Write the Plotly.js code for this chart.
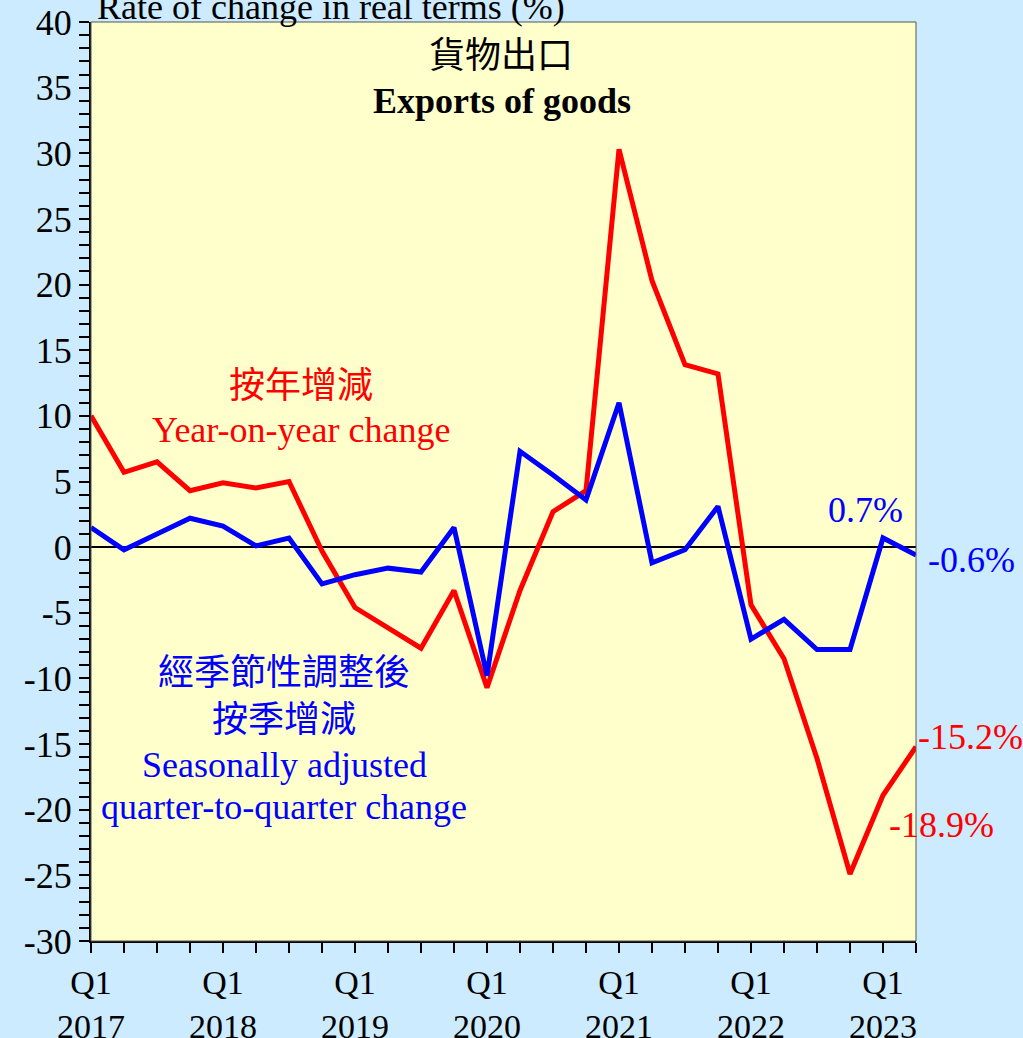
<!DOCTYPE html>
<html>
<head>
<meta charset="utf-8">
<script src="https://cdn.plot.ly/plotly-3.0.1.min.js"></script>
<style>
html,body{margin:0;padding:0;background:#CCEBFF;}
#chart{width:1023px;height:1038px;}
</style>
</head>
<body>
<div id="chart"></div>
<script>
const quarters = ["Q1 2017","Q2 2017","Q3 2017","Q4 2017","Q1 2018","Q2 2018","Q3 2018","Q4 2018",
  "Q1 2019","Q2 2019","Q3 2019","Q4 2019","Q1 2020","Q2 2020","Q3 2020","Q4 2020",
  "Q1 2021","Q2 2021","Q3 2021","Q4 2021","Q1 2022","Q2 2022","Q3 2022","Q4 2022","Q1 2023","Q2 2023"];
const yoyChange = [10.0,5.7,6.5,4.3,4.9,4.5,5.0,-0.3,-4.6,-6.2,-7.7,-3.3,-10.7,-3.3,2.7,4.3,
  30.3,20.3,13.9,13.2,-4.4,-8.5,-16.1,-24.9,-18.9,-15.2];
const qoqChange = [1.5,-0.2,1.0,2.2,1.6,0.1,0.7,-2.8,-2.1,-1.6,-1.9,1.5,-9.8,7.3,5.5,3.6,
  11.0,-1.2,-0.2,3.1,-7.0,-5.5,-7.8,-7.8,0.7,-0.6];
const xTickLabels = ["Q1<br>2017","","","","Q1<br>2018","","","","Q1<br>2019","","","","Q1<br>2020","","","",
  "Q1<br>2021","","","","Q1<br>2022","","","","Q1<br>2023",""];
const yTickVals = [-30,-25,-20,-15,-10,-5,0,5,10,15,20,25,30,35,40];
const yTickLabels = ["-30","-25","-20","-15","-10","-5","0","5","10","15","20","25","30","35","40"];

const xIdx = quarters.map((q,i)=>i);
const serif = "Liberation Serif, Times New Roman, Noto Sans CJK TC, serif";
const last = quarters.length-1;

const traces = [
  {x:xIdx, y:yoyChange, type:'scatter', mode:'lines', line:{color:'#FF0000', width:5}, cliponaxis:false, hoverinfo:'skip'},
  {x:xIdx, y:qoqChange, type:'scatter', mode:'lines', line:{color:'#0000FF', width:5}, cliponaxis:false, hoverinfo:'skip'}
];

const fmt = v => v.toFixed(1) + '%';
const FS = 36;

layout = {
  width:1023, height:1038,
  paper_bgcolor:'#CCEBFF', plot_bgcolor:'#FFFFCC',
  margin:{l:91, r:107, t:22, b:97},
  showlegend:false,
  font:{family:serif, size:FS, color:'#000'},
  xaxis:{
    range:[0,last], tickvals:xIdx, ticktext:xTickLabels,
    ticks:'outside', ticklen:10, tickwidth:1.5, tickcolor:'#000',
    showline:true, linecolor:'#000', linewidth:2,
    showgrid:false, zeroline:false, tickangle:0,
    tickfont:{family:serif, size:34, color:'#000'}
  },
  yaxis:{
    range:[-30,40], tickvals:yTickVals, ticktext:yTickLabels,
    ticks:'outside', ticklen:10, tickwidth:2, tickcolor:'#000',
    minor:{dtick:1, ticks:'outside', ticklen:10, tickwidth:2, tickcolor:'#000', showgrid:false},
    showline:true, linecolor:'#000', linewidth:2,
    showgrid:false, zeroline:true, zerolinecolor:'#000', zerolinewidth:2,
    tickfont:{family:serif, size:FS, color:'#000'}
  },
  shapes:[
    {type:'rect', xref:'paper', yref:'paper', x0:0, x1:1, y0:0, y1:1, line:{color:'#555', width:1}, fillcolor:'rgba(0,0,0,0)'}
  ],
  annotations:[
    {xref:'paper', yref:'paper', x:(331-91)/825, y:1, yanchor:'bottom', xanchor:'center', yshift:-7, showarrow:false,
     text:'Rate of change in real terms (%)', font:{family:serif, size:FS, color:'#000'}},
    {xref:'paper', yref:'y', x:(501-91)/825, y:37.4, showarrow:false, xanchor:'center', yanchor:'middle',
     text:'貨物出口', font:{family:serif, size:FS, color:'#000'}},
    {xref:'paper', yref:'y', x:(502-91)/825, y:34.0, showarrow:false, xanchor:'center', yanchor:'middle',
     text:'<b>Exports of goods</b>', font:{family:serif, size:FS, color:'#000'}},
    {xref:'paper', yref:'y', x:(301-91)/825, y:12.3, showarrow:false, xanchor:'center', yanchor:'middle',
     text:'按年增減', font:{family:serif, size:FS, color:'#FF0000'}},
    {xref:'paper', yref:'y', x:(301-91)/825, y:8.9, showarrow:false, xanchor:'center', yanchor:'middle',
     text:'Year-on-year change', font:{family:serif, size:FS, color:'#FF0000'}},
    {xref:'paper', yref:'y', x:(284-91)/825, y:-9.6, showarrow:false, xanchor:'center', yanchor:'middle',
     text:'經季節性調整後', font:{family:serif, size:FS, color:'#0000FF'}},
    {xref:'paper', yref:'y', x:(284-91)/825, y:-13.2, showarrow:false, xanchor:'center', yanchor:'middle',
     text:'按季增減', font:{family:serif, size:FS, color:'#0000FF'}},
    {xref:'paper', yref:'y', x:(284-91)/825, y:-16.6, showarrow:false, xanchor:'center', yanchor:'middle',
     text:'Seasonally adjusted', font:{family:serif, size:FS, color:'#0000FF'}},
    {xref:'paper', yref:'y', x:(284-91)/825, y:-19.8, showarrow:false, xanchor:'center', yanchor:'middle',
     text:'quarter-to-quarter change', font:{family:serif, size:FS, color:'#0000FF'}},
    {x:last-1, y:qoqChange[last-1], xref:'x', yref:'y', showarrow:false, xanchor:'center', yanchor:'middle',
     xshift:-18, yshift:28, text:fmt(qoqChange[last-1]), font:{family:serif, size:FS, color:'#0000FF'}},
    {x:last, y:qoqChange[last], xref:'x', yref:'y', showarrow:false, xanchor:'left', yanchor:'middle',
     xshift:10, yshift:-5, text:fmt(qoqChange[last]), font:{family:serif, size:FS, color:'#0000FF'}},
    {x:last, y:yoyChange[last], xref:'x', yref:'y', showarrow:false, xanchor:'left', yanchor:'middle',
     xshift:0, yshift:10, text:fmt(yoyChange[last]), font:{family:serif, size:FS, color:'#FF0000'}},
    {x:last-1, y:yoyChange[last-1], xref:'x', yref:'y', showarrow:false, xanchor:'left', yanchor:'middle',
     xshift:4, yshift:-30, text:fmt(yoyChange[last-1]), font:{family:serif, size:FS, color:'#FF0000'}}
  ]
};

Plotly.newPlot('chart', traces, layout, {staticPlot:true, displayModeBar:false});
</script>
</body>
</html>
